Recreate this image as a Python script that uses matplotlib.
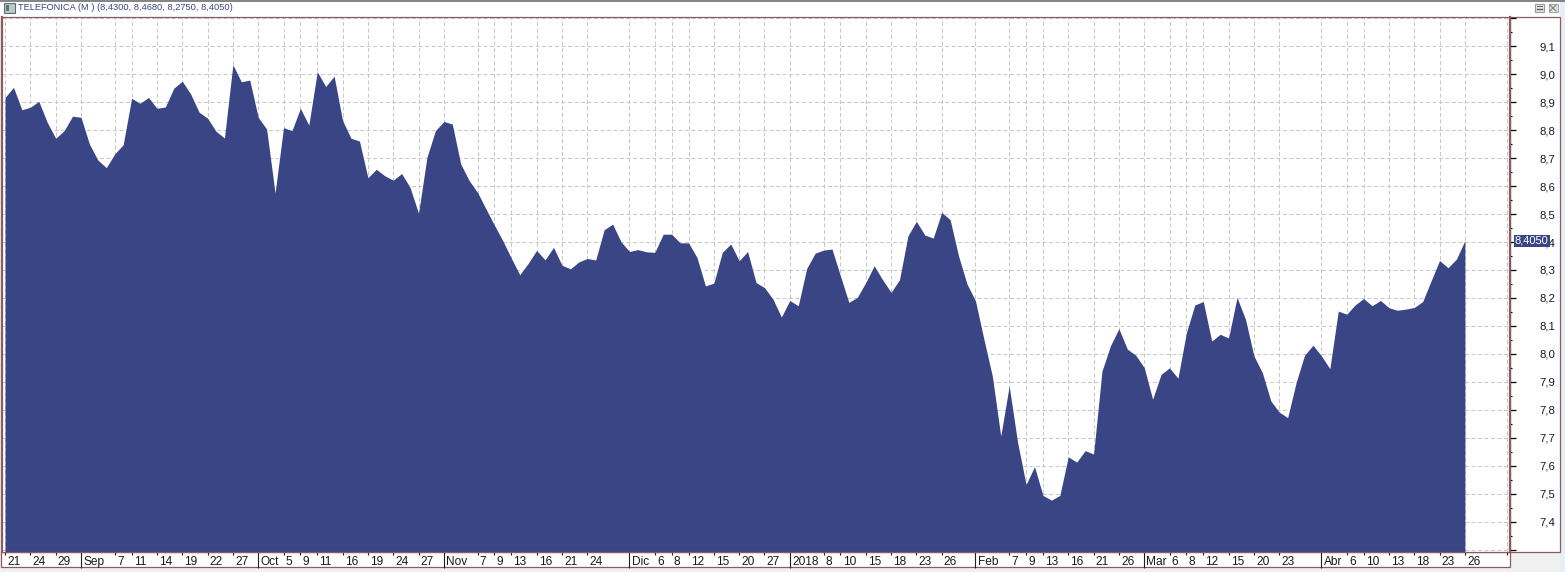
import numpy as np
import matplotlib
matplotlib.use("Agg")
import matplotlib.pyplot as plt
from matplotlib.patches import Rectangle
from matplotlib.lines import Line2D
from matplotlib.transforms import ScaledTranslation, blended_transform_factory

# Cierres (una sesion por valor)
cierres = [
    8.917, 8.953, 8.873, 8.882, 8.903, 8.828, 8.771, 8.798, 8.850, 8.846,
    8.750, 8.693, 8.666, 8.715, 8.748, 8.914, 8.896, 8.917, 8.878, 8.883,
    8.950, 8.975, 8.929, 8.864, 8.843, 8.796, 8.772, 9.034, 8.973, 8.979,
    8.846, 8.804, 8.575, 8.809, 8.798, 8.878, 8.818, 9.009, 8.956, 8.993,
    8.834, 8.771, 8.761, 8.630, 8.660, 8.637, 8.621, 8.645, 8.595, 8.503,
    8.703, 8.798, 8.831, 8.822, 8.679, 8.620, 8.577, 8.518, 8.460, 8.404,
    8.342, 8.283, 8.324, 8.370, 8.336, 8.381, 8.317, 8.304, 8.329, 8.341,
    8.336, 8.444, 8.464, 8.401, 8.366, 8.373, 8.365, 8.363, 8.428, 8.428,
    8.397, 8.397, 8.345, 8.243, 8.253, 8.363, 8.393, 8.333, 8.366, 8.255,
    8.237, 8.196, 8.132, 8.191, 8.172, 8.305, 8.360, 8.371, 8.375, 8.279,
    8.184, 8.202, 8.255, 8.315, 8.265, 8.220, 8.265, 8.422, 8.474, 8.425,
    8.414, 8.506, 8.480, 8.350, 8.250, 8.190, 8.053, 7.921, 7.706, 7.885,
    7.683, 7.533, 7.597, 7.494, 7.477, 7.494, 7.632, 7.613, 7.654, 7.642,
    7.939, 8.029, 8.090, 8.017, 7.995, 7.951, 7.838, 7.927, 7.950, 7.913,
    8.076, 8.175, 8.187, 8.046, 8.070, 8.057, 8.202, 8.124, 7.993, 7.933,
    7.832, 7.792, 7.772, 7.897, 7.995, 8.031, 7.993, 7.947, 8.153, 8.142,
    8.175, 8.198, 8.172, 8.191, 8.165, 8.156, 8.160, 8.166, 8.187, 8.261,
    8.334, 8.308, 8.339, 8.405,
]

# Marcas del eje de fechas: sesion y etiqueta
marcas_x = [0, 3, 6, 9, 13, 15, 18, 21, 24, 27, 30, 33, 35, 37, 40, 43, 46, 49, 52,
            56, 58, 60, 63, 66, 69, 74, 77, 79, 81, 84, 87, 90, 93, 97, 99, 102, 105,
            108, 111, 115, 119, 121, 123, 126, 129, 132, 135, 138, 140, 142, 145, 148,
            151, 156, 159, 161, 164, 167, 170, 173, 178]
etiquetas_x = ["21", "24", "29", "Sep", "7", "11", "14", "19", "22", "27", "Oct", "5", "9",
               "11", "16", "19", "24", "27", "Nov", "7", "9", "13", "16", "21", "24", "Dic",
               "6", "8", "12", "15", "20", "27", "2018", "8", "10", "15", "18", "23", "26",
               "Feb", "7", "9", "13", "16", "21", "26", "Mar", "6", "8", "12", "15", "20",
               "23", "Abr", "6", "10", "13", "18", "23", "26", ""]
meses = ["Sep", "Oct", "Nov", "Dic", "2018", "Feb", "Mar", "Abr"]

marcas_y = [7.3, 7.4, 7.5, 7.6, 7.7, 7.8, 7.9, 8.0, 8.1, 8.2, 8.3, 8.4, 8.5, 8.6, 8.7,
            8.8, 8.9, 9.0, 9.1, 9.2]
etiquetas_y = ["", "7,4", "7,5", "7,6", "7,7", "7,8", "7,9", "8,0", "8,1", "8,2", "8,3",
               "8,4", "8,5", "8,6", "8,7", "8,8", "8,9", "9,0", "9,1", ""]

titulo = "TELEFONICA (M ) (8,4300, 8,4680, 8,2750, 8,4050)"
ultimo = "8,4050"

AZUL = "#3a4586"
MARRON = "#8a5c5f"
W, H = 1565, 572

plt.rcParams["font.family"] = ["Liberation Sans", "DejaVu Sans"]
plt.rcParams["font.size"] = 8


# caja en pixeles de la imagen (origen arriba a la izquierda)
def caja(x0, y0, x1, y1, fc="none", ec="none", lw=0.0, z=0):
    r = Rectangle((x0 / W, 1 - y1 / H), (x1 - x0) / W, (y1 - y0) / H,
                  transform=fig.transFigure, fc=fc, ec=ec, lw=lw, zorder=z)
    fig.add_artist(r)


def raya(x0, y0, x1, y1, color, lw=0.72, z=3):
    fig.add_artist(Line2D([x0 / W, x1 / W], [1 - y0 / H, 1 - y1 / H],
                          transform=fig.transFigure, color=color, lw=lw, zorder=z))


fig = plt.figure(figsize=(W / 100, H / 100), dpi=100, facecolor="#f0f0f0")

# marco de la ventana
caja(0, 0, W, 17, fc="white", z=0)
caja(1560, 0, W, H, fc="#e6eef7", z=0.5)
caja(1510, 17, 1560, 551.5, fc="white", ec=MARRON, lw=0.9, z=0.6)
caja(1, 551.5, 1510, 567, fc="white", ec=MARRON, lw=0.9, z=0.6)
raya(0, 0.5, W, 0.5, "#6e6e6e", lw=1.2)

# iconos de la barra de titulo
caja(3.5, 3, 14.5, 13, fc="#b9cbc4", ec="#5e6e78", lw=0.8, z=2)
caja(5.5, 5, 9, 11, fc="#4d7d78", z=3)
caja(1534.5, 4, 1544, 12, fc="#e4e4e4", ec="#9a9a9a", lw=0.8, z=2)
raya(1536.5, 9, 1542, 9, "#606060", lw=1.0)
raya(1536.5, 6, 1542, 6, "#606060", lw=0.7)
caja(1548.5, 4, 1557.5, 12, fc="#e4e4e4", ec="#a8a8a8", lw=0.8, z=2)
raya(1550, 5, 1556, 11, "#808080", lw=0.8)
raya(1556, 5, 1550, 11, "#808080", lw=0.8)
fig.text(18 / W, 1 - 7 / H, titulo, color="#3b4587", fontsize=6.7, va="center", ha="left")

ax = fig.add_axes([1.5 / W, 1 - 551.5 / H, (1510 - 1.5) / W, (551.5 - 17) / H])
ax.set_zorder(1)
ax.patch.set_facecolor("white")

sesiones = np.arange(len(cierres))
ymin = 7.2934
ax.fill_between(sesiones, cierres, ymin, color=AZUL, lw=0, antialiased=False, zorder=2)

ax.set_xlim(-0.42, 178.35)
ax.set_ylim(ymin, 9.2046)

ax.set_xticks(marcas_x)
ax.set_xticklabels(etiquetas_x)
ax.yaxis.tick_right()
ax.set_yticks(marcas_y)
ax.set_yticklabels(etiquetas_y)
ax.set_yticks([v + 0.05 for v in marcas_y[:-1]], minor=True)

ax.grid(True, which="major", color="#c8c8c8", lw=0.72, ls=(0, (4, 2.5)), zorder=1)
ax.set_axisbelow(True)

ax.tick_params(axis="x", length=2.2, width=0.8, pad=0.8, labelsize=8.6, color="#202020",
               labelcolor="#1a1a1a")
ax.tick_params(axis="y", which="major", length=4.3, width=0.9, pad=28.1, labelsize=8.2,
               color="black", labelcolor="#1a1a1a")
ax.tick_params(axis="y", which="minor", length=1.6, width=0.8, color="black")

# etiquetas del eje x a la derecha de su marca; los meses con raya hasta abajo
desp = ScaledTranslation(2.2 / 100, 0, fig.dpi_scale_trans)
for tick, txt in zip(ax.xaxis.get_major_ticks(), etiquetas_x):
    tick.label1.set_ha("left")
    tick.label1.set_transform(tick.label1.get_transform() + desp)
    if txt in meses:
        tick.tick1line.set_markersize(15.5 * 0.72)
for tick in ax.yaxis.get_major_ticks():
    tick.label2.set_ha("right")

for lado in ax.spines:
    ax.spines[lado].set_color(MARRON)
ax.spines["left"].set_linewidth(1.6)
ax.spines["right"].set_linewidth(1.6)
ax.spines["top"].set_linewidth(0.9)
ax.spines["bottom"].set_linewidth(0.9)

# recuadro con el ultimo valor, tapa parte de la etiqueta 8,4
trans = blended_transform_factory(ax.transAxes, ax.transData)
ax.text(1.0031, cierres[-1], ultimo, transform=trans, color="white", fontsize=8.0,
        ha="left", va="center", zorder=6,
        bbox=dict(fc=AZUL, ec="none", boxstyle="square,pad=0.1"))

fig.savefig("out.png", dpi=100, facecolor=fig.get_facecolor())
